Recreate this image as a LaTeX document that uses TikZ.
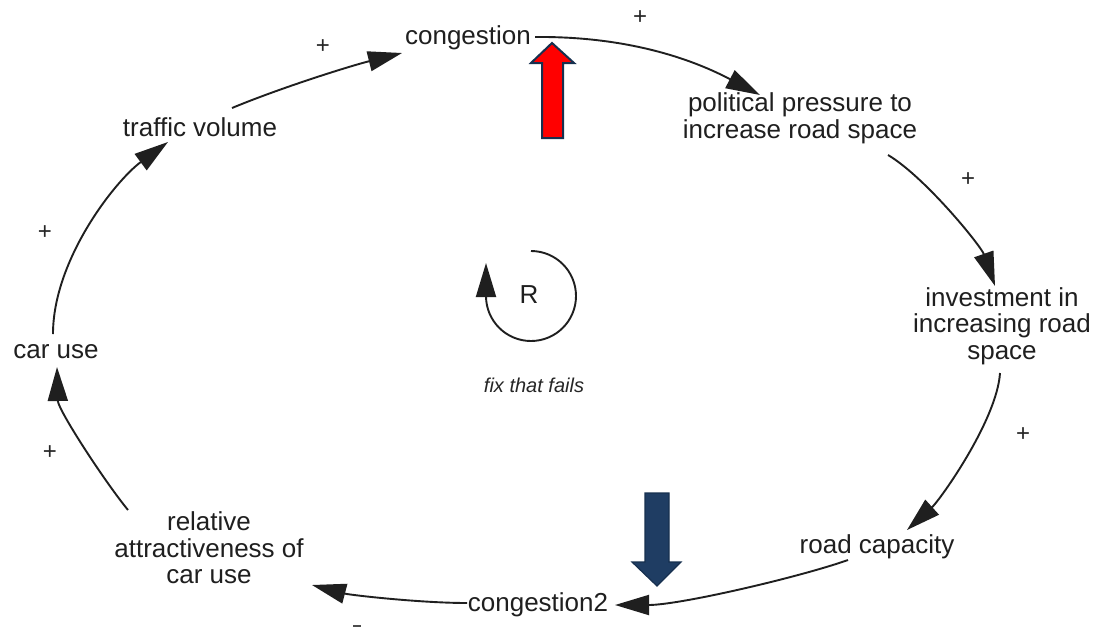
\documentclass[tikz,border=0pt]{standalone}
\usepackage{fontspec}
\setmainfont{Liberation Sans}
\usetikzlibrary{arrows.meta,calc}
\definecolor{navy}{HTML}{1F3D63}
\definecolor{navyedge}{HTML}{17304F}
\definecolor{redfill}{HTML}{FF0000}
\begin{document}
\begin{tikzpicture}[x=0.5pt,y=-0.5pt,
  var/.style={align=center,inner sep=0pt,font=\fontsize{13}{13.3}\selectfont,text=black!88},
  pol/.style={font=\fontsize{12}{13}\selectfont,inner sep=0pt,text=black!85},
  link/.style={line width=0.95pt,draw=black!88,-{Triangle[length=17pt,width=10pt]}}]
\useasboundingbox[fill=white] (0,0) rectangle (1097,627);
% variables
\node[var] (cong)  at (468,38)  {congestion};
\node[var] (pol)   at (800,118) {political pressure to\\increase road space};
\node[var] (inv)   at (1002,326){investment in\\increasing road\\space};
\node[var] (cap)   at (877,547) {road capacity};
\node[var] (cong2) at (538,605) {congestion2};
\node[var] (rel)   at (209,548) {relative\\attractiveness of\\car use};
\node[var] (car)   at (56,352)  {car use};
\node[var] (tv)    at (200,127) {traffic volume};
% links
\draw[link] ($(cong)+(67,-1)$) .. controls ($(cong)+(172,-2)$) and ($(pol)+(-95,-52)$) .. ($(pol)+(-40,-23)$);
\draw[link] ($(pol)+(88,37)$) .. controls ($(pol)+(125,59)$) and ($(inv)+(-21,-80)$) .. ($(inv)+(-7,-40)$);
\draw[link] ($(inv)+(-2,47)$) .. controls ($(inv)+(-5,94)$) and ($(cap)+(63,-47)$) .. ($(cap)+(30,-17)$);
\draw[link] ($(cap)+(-29,13)$) .. controls ($(cap)+(-77,30)$) and ($(cong2)+(142,0)$) .. ($(cong2)+(77,0)$);
\draw[link] ($(cong2)+(-71,-2)$) .. controls ($(cong2)+(-118,-2)$) and ($(rel)+(141,47)$) .. ($(rel)+(103,37)$);
\draw[link] ($(rel)+(-81,-38)$) .. controls ($(rel)+(-104,-66)$) and ($(car)+(2,58)$) .. ($(car)+(1,15)$);
\draw[link] ($(car)+(-3,-18)$) .. controls ($(car)+(-3,-92)$) and ($(tv)+(-85,54)$) .. ($(tv)+(-32,15)$);
\draw[link] ($(tv)+(32,-19)$) .. controls ($(tv)+(80,-39)$) and ($(cong)+(-118,28)$) .. ($(cong)+(-66,15)$);
% polarities
\node[pol] (p1) at (640,18)  {+};
\node[pol] (p2) at (968,180) {+};
\node[pol] (p3) at (1023,435){+};
\node[pol] (p5) at (50,453)  {+};
\node[pol] (p6) at (45,233)  {+};
\node[pol] (p7) at (323,47)  {+};
% stub of a polarity sign cut off by the bottom edge
\draw[line width=1.2pt,black!70] (353,626) -- (361,626);
% loop symbol
\node[var] (R) at (529,295) {R};
\node[font=\fontsize{10}{12}\selectfont\itshape,inner sep=0pt,text=black!85] (fix) at (534,385) {fix that fails};
\draw[link] (531,251) arc[start angle=90,end angle=-180,radius=22.5pt] -- ++(0,-33);
% highlight arrows
\filldraw[fill=redfill,draw=navyedge,line width=1pt,line join=miter]
  (552,43) -- (574,63) -- (563,63) -- (563,138) -- (542,138) -- (542,63) -- (531,63) -- cycle;
\filldraw[fill=navy,draw=navyedge,line width=0.6pt,line join=miter]
  (645,493) -- (669,493) -- (669,562) -- (681,562) -- (657,586) -- (632,562) -- (645,562) -- cycle;
\end{tikzpicture}
\end{document}
